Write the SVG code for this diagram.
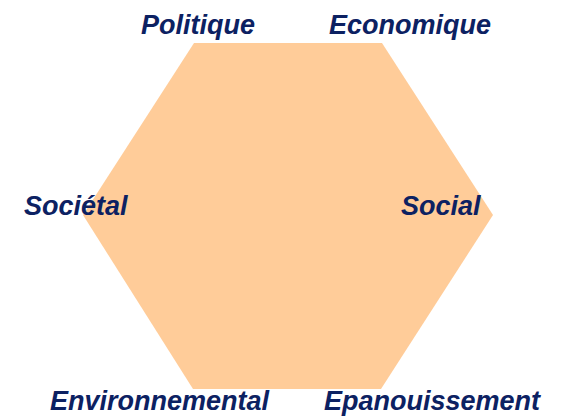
<svg xmlns="http://www.w3.org/2000/svg" width="566" height="416" viewBox="0 0 566 416">
<style>
.lbl{font-family:"Liberation Sans",Arial,sans-serif;font-size:27px;font-weight:bold;font-style:italic;fill:#0C2162}
</style>
<rect width="566" height="416" fill="#FFFFFF"/>
<g id="hexagon">
<polygon points="194,43 382,43 493,215 381,389 193,389 83,215" fill="#FFCC99"/>
</g>
<g id="connectors"/>
<g id="politique"><text class="lbl" x="141" y="34">Politique</text></g>
<g id="economique"><text class="lbl" x="329" y="34">Economique</text></g>
<g id="societal"><text class="lbl" x="24" y="215">Sociétal</text></g>
<g id="social"><text class="lbl" x="401" y="215">Social</text></g>
<g id="environnemental"><text class="lbl" x="50" y="410">Environnemental</text></g>
<g id="epanouissement"><text class="lbl" x="324" y="410">Epanouissement</text></g>
</svg>
